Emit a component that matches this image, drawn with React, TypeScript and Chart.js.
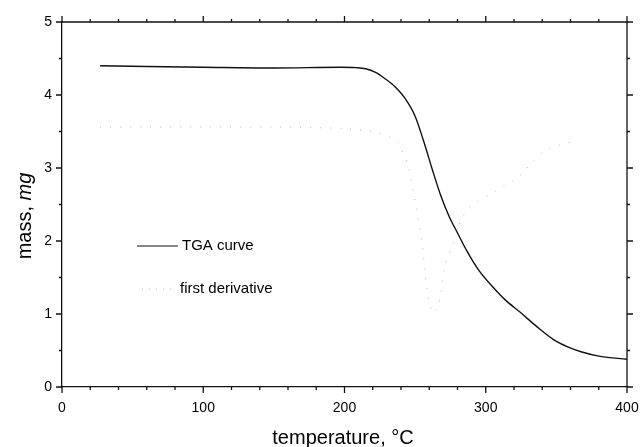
import React, { useEffect, useRef } from "react";
import { Chart, registerables } from "chart.js";

Chart.register(...registerables);

const tgaTemp = [27, 60, 100, 150, 197, 208, 215, 222, 229, 236, 243, 250, 256, 262, 268, 274, 280, 287, 295, 305, 314, 324, 336, 348, 358, 368, 381, 400];
const tgaMass = [4.40, 4.39, 4.38, 4.37, 4.38, 4.375, 4.36, 4.31, 4.22, 4.11, 3.95, 3.71, 3.37, 2.99, 2.63, 2.34, 2.11, 1.85, 1.60, 1.37, 1.19, 1.03, 0.83, 0.65, 0.55, 0.48, 0.42, 0.38];

const derivTemp = [27, 60, 100, 150, 200, 222, 238, 241.5, 245, 250, 255, 257, 258, 260, 263, 266, 268, 269, 271, 273, 277, 280, 282, 289, 305, 321, 328, 331, 343, 365];
const derivValue = [3.56, 3.56, 3.56, 3.56, 3.54, 3.49, 3.35, 3.20, 3.04, 2.55, 1.96, 1.56, 1.40, 1.16, 1.01, 1.10, 1.25, 1.40, 1.67, 1.78, 1.97, 2.10, 2.27, 2.47, 2.66, 2.85, 2.97, 3.05, 3.25, 3.38];

const xMajorTicks = [0, 100, 200, 300, 400];
const yMajorTicks = [0, 1, 2, 3, 4, 5];
const seriesLabels = ["TGA curve", "first derivative"];
const xTitle = "temperature, °C";
const yTitleMain = "mass, ";
const yTitleUnit = "mg";

const FONT = "'Liberation Sans', Arial, sans-serif";

const decorPlugin = {
  id: "decor",
  afterDraw(chart: any) {
    const ctx = chart.ctx;
    const xs = chart.scales.x;
    const ys = chart.scales.y;
    const { left, right, top, bottom } = chart.chartArea;
    ctx.save();
    ctx.strokeStyle = "#111";
    ctx.lineWidth = 1.3;
    ctx.beginPath();
    ctx.moveTo(left, top);
    ctx.lineTo(right, top);
    ctx.lineTo(right, bottom);
    ctx.stroke();
    for (let v = 0; v <= 400; v += 20) {
      const px = xs.getPixelForValue(v);
      const len = v % 100 === 0 ? 6 : 3;
      ctx.beginPath();
      ctx.moveTo(px, bottom);
      ctx.lineTo(px, bottom + len);
      ctx.moveTo(px, top);
      ctx.lineTo(px, top - len);
      ctx.stroke();
    }
    for (let i = 0; i <= 10; i++) {
      const v = i * 0.5;
      const py = ys.getPixelForValue(v);
      const len = i % 2 === 0 ? 6 : 3;
      ctx.beginPath();
      ctx.moveTo(left, py);
      ctx.lineTo(left - len, py);
      ctx.moveTo(right, py);
      ctx.lineTo(right + len, py);
      ctx.stroke();
    }
    ctx.fillStyle = "#000";
    ctx.textBaseline = "middle";
    ctx.textAlign = "center";
    ctx.font = `20px ${FONT}`;
    ctx.fillText(xTitle, 343, 438);
    ctx.save();
    ctx.translate(25, 216);
    ctx.rotate(-Math.PI / 2);
    ctx.font = `20px ${FONT}`;
    const w1 = ctx.measureText(yTitleMain).width;
    ctx.font = `italic 20px ${FONT}`;
    const w2 = ctx.measureText(yTitleUnit).width;
    const start = -(w1 + w2) / 2;
    ctx.textAlign = "left";
    ctx.font = `20px ${FONT}`;
    ctx.fillText(yTitleMain, start, 0);
    ctx.font = `italic 20px ${FONT}`;
    ctx.fillText(yTitleUnit, start + w1, 0);
    ctx.restore();
    ctx.textAlign = "left";
    ctx.font = `15px ${FONT}`;
    const ds0 = chart.data.datasets[0];
    const ds1 = chart.data.datasets[1];
    ctx.strokeStyle = ds0.borderColor;
    ctx.lineWidth = 1.2;
    ctx.setLineDash([]);
    ctx.beginPath();
    ctx.moveTo(137, 246);
    ctx.lineTo(178, 246);
    ctx.stroke();
    ctx.fillText(ds0.label, 182, 246);
    ctx.strokeStyle = ds1.borderColor;
    ctx.lineWidth = 1;
    ctx.setLineDash([1, 6]);
    ctx.beginPath();
    ctx.moveTo(142, 289);
    ctx.lineTo(174, 289);
    ctx.stroke();
    ctx.setLineDash([]);
    ctx.fillText(ds1.label, 180, 289);
    ctx.restore();
  },
};

export default function App() {
  const ref = useRef<HTMLCanvasElement | null>(null);
  useEffect(() => {
    if (!ref.current) return;
    const chart = new Chart(ref.current, {
      type: "scatter",
      data: {
        datasets: [
          {
            label: seriesLabels[0],
            data: tgaTemp.map((t, i) => ({ x: t, y: tgaMass[i] })),
            showLine: true,
            borderColor: "#111",
            borderWidth: 1.4,
            pointRadius: 0,
            cubicInterpolationMode: "monotone",
          },
          {
            label: seriesLabels[1],
            data: derivTemp.map((t, i) => ({ x: t, y: derivValue[i] })),
            showLine: true,
            borderColor: "#b4b4b4",
            borderWidth: 1,
            borderDash: [1, 9],
            pointRadius: 0,
            tension: 0.3,
          },
        ],
      },
      options: {
        animation: false,
        responsive: false,
        maintainAspectRatio: false,
        layout: { padding: { left: 0, top: 22, right: 13, bottom: 0 } },
        plugins: { legend: { display: false }, tooltip: { enabled: false } },
        scales: {
          x: {
            type: "linear",
            min: 0,
            max: 400,
            afterBuildTicks: (s: any) => {
              s.ticks = xMajorTicks.map((v) => ({ value: v }));
            },
            afterFit: (s: any) => {
              s.height = 60;
              s.paddingLeft = 0;
              s.paddingRight = 0;
            },
            grid: { display: true, drawOnChartArea: false, drawTicks: false },
            border: { display: true, color: "#111", width: 1.3 },
            ticks: { color: "#000", font: { family: FONT, size: 14 }, padding: 13, maxRotation: 0 },
          },
          y: {
            type: "linear",
            min: 0,
            max: 5,
            afterBuildTicks: (s: any) => {
              s.ticks = yMajorTicks.map((v) => ({ value: v }));
            },
            afterFit: (s: any) => {
              s.width = 62;
              s.paddingTop = 0;
              s.paddingBottom = 0;
            },
            grid: { display: true, drawOnChartArea: false, drawTicks: false },
            border: { display: true, color: "#111", width: 1.3 },
            ticks: { color: "#000", font: { family: FONT, size: 14 }, padding: 10 },
          },
        },
      },
      plugins: [decorPlugin],
    } as any);
    return () => chart.destroy();
  }, []);
  return (
    <div style={{ position: "absolute", left: 0, top: 0, width: 640, height: 447, background: "#fff" }}>
      <canvas ref={ref} width={640} height={447} />
    </div>
  );
}
